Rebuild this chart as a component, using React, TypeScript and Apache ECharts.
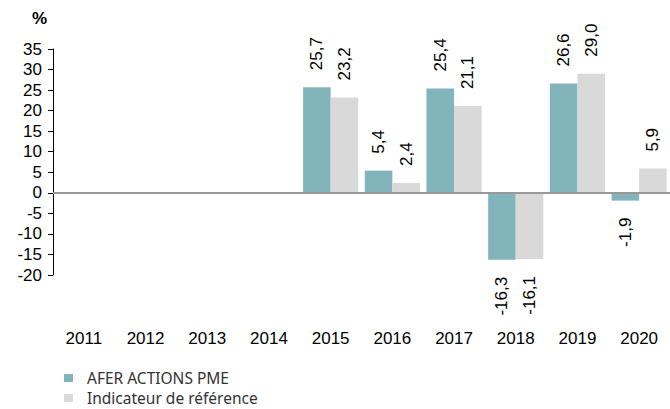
import React, { useEffect, useRef } from "react";
import * as echarts from "echarts";

const categories = ["2011", "2012", "2013", "2014", "2015", "2016", "2017", "2018", "2019", "2020"];
const aferValues: (number | null)[] = [null, null, null, null, 25.7, 5.4, 25.4, -16.3, 26.6, -1.9];
const refValues: (number | null)[] = [null, null, null, null, 23.2, 2.4, 21.1, -16.1, 29.0, 5.9];
const seriesNames = ["AFER ACTIONS PME", "Indicateur de référence"];
const colors = ["#82B4BB", "#D9D9D9"];

const fmt = (v: number) => v.toFixed(1).replace(".", ",");

const toData = (vals: (number | null)[]) =>
  vals.map((v) =>
    v === null
      ? null
      : v >= 0
      ? { value: v, label: { position: "top", align: "left" } }
      : { value: v, label: { position: "bottom", align: "right" } }
  );

const FONT = "Liberation Sans, Arial, sans-serif";

export default function App() {
  const ref = useRef<HTMLDivElement>(null);
  useEffect(() => {
    const chart = echarts.init(ref.current!, null, { renderer: "svg" });
    const labelBase = {
      show: true,
      rotate: 90,
      distance: 17,
      verticalAlign: "middle",
      fontFamily: FONT,
      fontSize: 17,
      color: "#000",
      formatter: (p: any) => fmt(p.value),
    };
    const legendBase = {
      orient: "horizontal",
      left: 62,
      padding: 0,
      itemWidth: 9,
      itemHeight: 8,
      icon: "rect",
      textStyle: {
        fontFamily: "Noto Sans",
        fontSize: 15.5,
        lineHeight: 16,
        color: "#333",
        padding: [0, 0, 0, 9],
      },
    };
    chart.setOption({
      animation: false,
      grid: { left: 53, right: -3, top: 49, bottom: 134, containLabel: false },
      legend: [
        { ...legendBase, left: 64, top: 370, data: [seriesNames[0]] },
        { ...legendBase, left: 64, top: 390, data: [seriesNames[1]] },
      ],
      graphic: [
        {
          type: "text",
          left: 32,
          top: 10,
          style: { text: "%", font: "bold 17px Liberation Sans, Arial, sans-serif", fill: "#000" },
        },
      ],
      xAxis: {
        type: "category",
        data: categories,
        position: "bottom",
        axisLine: { show: false, onZero: false },
        axisTick: { show: false },
        axisLabel: {
          margin: 55,
          fontFamily: FONT,
          fontSize: 17,
          color: "#000",
        },
      },
      yAxis: {
        type: "value",
        min: -20,
        max: 35,
        interval: 5,
        axisLine: { show: true, lineStyle: { color: "#000", width: 1 } },
        axisTick: { show: true, length: 5, lineStyle: { color: "#000" } },
        splitLine: { show: false },
        axisLabel: {
          margin: 11,
          fontFamily: FONT,
          fontSize: 17,
          color: "#000",
        },
      },
      series: [
        {
          name: seriesNames[0],
          type: "bar",
          data: toData(aferValues),
          itemStyle: { color: colors[0] },
          barGap: "0%",
          barCategoryGap: "10.6%",
          label: labelBase,
          markLine: {
            silent: true,
            symbol: "none",
            label: { show: false },
            lineStyle: { color: "#999", width: 2, type: "solid" },
            data: [{ yAxis: 0 }],
          },
        },
        {
          name: seriesNames[1],
          type: "bar",
          data: toData(refValues),
          itemStyle: { color: colors[1] },
          barGap: "0%",
          barCategoryGap: "10.6%",
          label: labelBase,
        },
      ],
    });
    return () => chart.dispose();
  }, []);
  return (
    <div
      ref={ref}
      style={{ position: "absolute", left: 0, top: 0, width: 670, height: 409, overflow: "hidden" }}
    />
  );
}
